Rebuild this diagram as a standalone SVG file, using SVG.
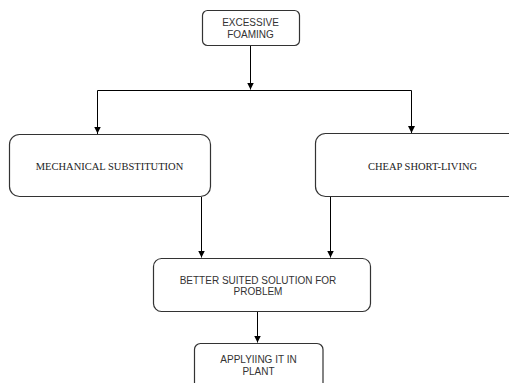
<svg xmlns="http://www.w3.org/2000/svg" width="509" height="383" viewBox="0 0 509 383">
<defs>
<marker id="arr" markerWidth="8" markerHeight="8" refX="7" refY="4" orient="auto" markerUnits="userSpaceOnUse">
<path d="M0,0.5 L7,4 L0,7.5 Z" fill="#000"/>
</marker>
<style>
.box{fill:#fff;stroke:#333;stroke-width:1.2}
.sans{font-family:"Liberation Sans",Arial,sans-serif;font-size:10px;fill:#333;text-anchor:middle}
.serif{font-family:"Liberation Serif","Times New Roman",serif;font-size:10.5px;fill:#222;text-anchor:middle}
.conn{fill:none;stroke:#000;stroke-width:1}
</style>
</defs>
<rect width="509" height="383" fill="#fff"/>
<g id="connectors">
<path class="conn" d="M250.5,45.5 V89.5" marker-end="url(#arr)"/>
<path class="conn" d="M97.5,134 V90.5 H411.5 V133"/>
<path class="conn" d="M97.5,110 V133.5" marker-end="url(#arr)"/>
<path class="conn" d="M411.5,110 V133" marker-end="url(#arr)"/>
<path class="conn" d="M201.5,197 V257.5" marker-end="url(#arr)"/>
<path class="conn" d="M330.5,197 V257.5" marker-end="url(#arr)"/>
<path class="conn" d="M257.5,312 V342.5" marker-end="url(#arr)"/>
</g>
<g id="excessive-foaming">
<rect class="box" x="202.5" y="10.5" width="97" height="35" rx="5"/>
<text class="sans" x="250.5" y="26.3">EXCESSIVE</text>
<text class="sans" x="250.5" y="37.8">FOAMING</text>
</g>
<g id="mechanical-substitution">
<rect class="box" x="9.5" y="134.5" width="201" height="62" rx="10"/>
<text class="serif" x="109.5" y="169.8">MECHANICAL SUBSTITUTION</text>
</g>
<g id="cheap-short-living">
<rect class="box" x="315.5" y="133.5" width="214" height="63" rx="10"/>
<text class="serif" x="422.5" y="169.8">CHEAP SHORT-LIVING</text>
</g>
<g id="better-suited">
<rect class="box" x="153.5" y="258.5" width="217" height="53" rx="8"/>
<text class="sans" x="258" y="283.5">BETTER SUITED SOLUTION FOR</text>
<text class="sans" x="258" y="294.5">PROBLEM</text>
</g>
<g id="applying">
<rect class="box" x="194.5" y="343.5" width="128.5" height="50" rx="6"/>
<text class="sans" x="258.5" y="362.8">APPLYIING IT IN</text>
<text class="sans" x="258.5" y="375.3">PLANT</text>
</g>
</svg>
